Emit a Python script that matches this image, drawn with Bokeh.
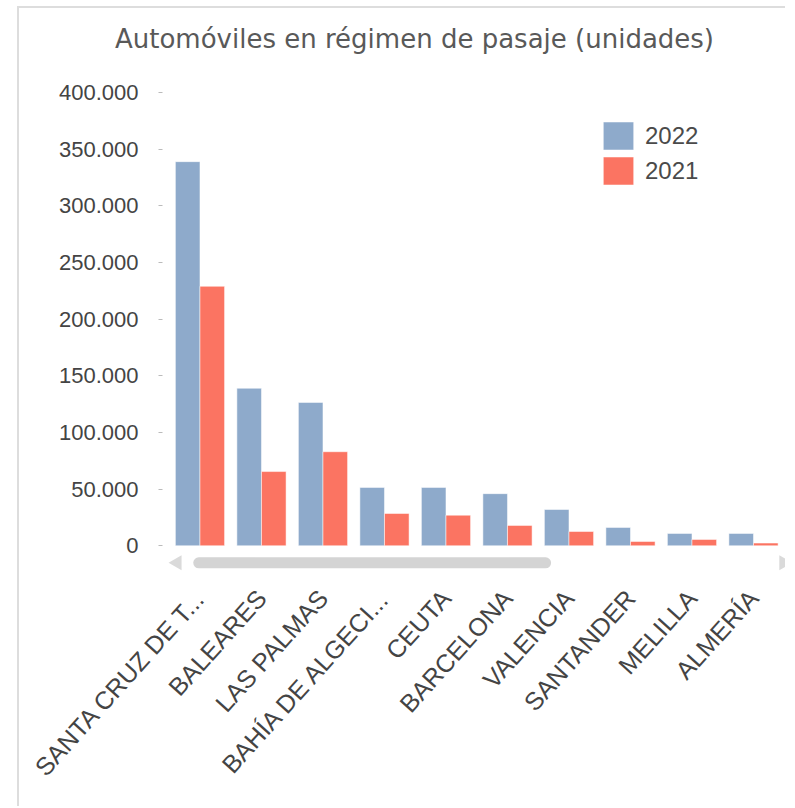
import math
from bokeh.plotting import figure
from bokeh.models import (Range1d, FixedTicker, Legend, LegendItem, ColumnDataSource, Label)
from bokeh.transform import dodge
from bokeh.embed import file_html
from bokeh.resources import INLINE

# ---- data ----
categories = ["SANTA CRUZ DE T...", "BALEARES", "LAS PALMAS", "BAHÍA DE ALGECI...",
              "CEUTA", "BARCELONA", "VALENCIA", "SANTANDER", "MELILLA", "ALMERÍA"]
values_2022 = [339000, 139000, 126500, 51500, 51500, 46000, 32000, 16200, 10900, 10900]
values_2021 = [229000, 65500, 83000, 28500, 27000, 18000, 12600, 3800, 5600, 2400]
series_names = ["2022", "2021"]
y_ticks = [0, 50000, 100000, 150000, 200000, 250000, 300000, 350000, 400000]
y_tick_labels = ["0", "50.000", "100.000", "150.000", "200.000", "250.000",
                 "300.000", "350.000", "400.000"]
title_text = "Automóviles en régimen de pasaje (unidades)"

BLUE = "#8eaacb"
RED = "#fb7462"

source = ColumnDataSource(dict(
    x=list(range(len(categories))),
    v2022=values_2022,
    v2021=values_2021,
))

# the frame covers the title, legend and y axis labels (y axis is placed inside it)
p = figure(width=768, height=800, output_backend="svg", toolbar_location=None,
           x_range=Range1d(-2.902, 9.553), y_range=Range1d(-28000, 472400),
           min_border_left=2, min_border_right=0, min_border_top=2,
           min_border_bottom=231)
p.styles = {"margin-left": "17px", "margin-top": "6px",
            "border-left": "2px solid #dddddd", "border-top": "2px solid #dddddd"}

# chart title (frame-relative screen position)
p.add_layout(Label(x=393, y=539, x_units="screen", y_units="screen", text=title_text,
                   text_font="DejaVu Sans", text_font_size="26px",
                   text_color="#595959", text_align="center",
                   text_baseline="middle"))

bar_kw = dict(width=0.4, bottom=0, source=source, line_color="white",
              line_alpha=0.5, line_width=1)
r2022 = p.vbar(x=dodge("x", -0.2, range=p.x_range), top="v2022", fill_color=BLUE, **bar_kw)
r2021 = p.vbar(x=dodge("x", 0.2, range=p.x_range), top="v2021", fill_color=RED, **bar_kw)

legend = Legend(items=[LegendItem(label=series_names[0], renderers=[r2022]),
                       LegendItem(label=series_names[1], renderers=[r2021])],
                location=(578, 389), padding=0, margin=0, spacing=0,
                glyph_width=38, glyph_height=35, label_standoff=8,
                label_text_font="Liberation Sans", label_text_font_size="24px",
                label_text_color="#4a4a4a", border_line_color=None,
                background_fill_alpha=0)
p.add_layout(legend, "center")

# scrollbar decoration (below the zero line)
p.line(x=[-0.02, 5.62], y=[-15000, -15000], line_width=11, line_cap="round",
       line_color="#d4d4d4")
p.scatter(x=[-0.37], y=[-15000], marker="triangle", size=15, angle=math.pi / 2,
          fill_color="#dadada", line_color=None)
p.scatter(x=[9.49], y=[-15000], marker="triangle", size=15, angle=-math.pi / 2,
          fill_color="#dadada", line_color=None)

# axes
p.yaxis.fixed_location = -0.61
p.yaxis.ticker = FixedTicker(ticks=y_ticks)
p.yaxis.major_label_overrides = {t: l for t, l in zip(y_ticks, y_tick_labels)}
p.yaxis.axis_line_color = None
p.yaxis.major_tick_line_color = "#bbbbbb"
p.yaxis.major_tick_out = 4
p.yaxis.major_tick_in = 0
p.yaxis.minor_tick_line_color = None
p.yaxis.major_label_standoff = 20
p.yaxis.major_label_text_font = "Liberation Sans"
p.yaxis.major_label_text_font_size = "22px"
p.yaxis.major_label_text_color = "#444444"

p.xaxis.ticker = FixedTicker(ticks=list(range(len(categories))))
p.xaxis.major_label_overrides = {i: c for i, c in enumerate(categories)}
p.xaxis.major_label_orientation = math.radians(48)
p.xaxis.axis_line_color = None
p.xaxis.major_tick_line_color = None
p.xaxis.minor_tick_line_color = None
p.xaxis.major_label_standoff = 10
p.xaxis.major_label_text_font = "Liberation Sans"
p.xaxis.major_label_text_font_size = "25px"
p.xaxis.major_label_text_color = "#444444"

p.xgrid.grid_line_color = None
p.ygrid.grid_line_color = None
p.outline_line_color = None
p.background_fill_color = "white"
p.border_fill_color = "white"

open("out.html", "w").write(file_html(p, INLINE))
